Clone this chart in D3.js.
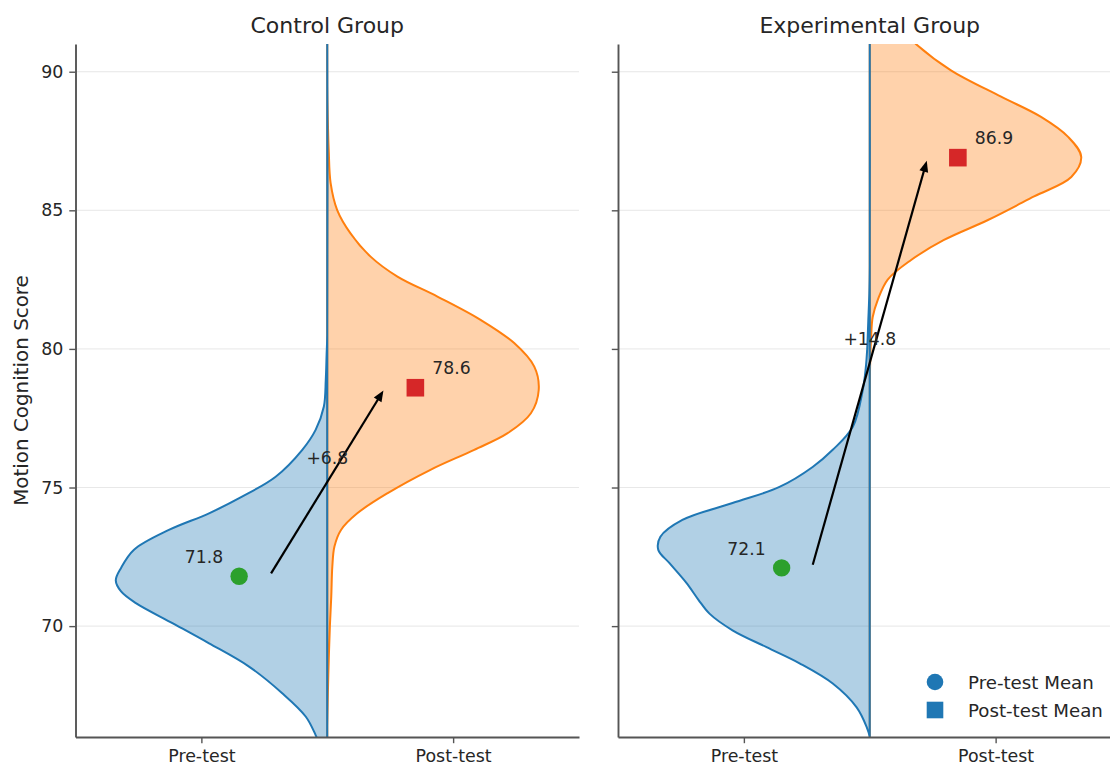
<!DOCTYPE html>
<html>
<head>
<meta charset="utf-8">
<script src="https://cdn.jsdelivr.net/npm/d3@7"></script>
<style>
  body { margin: 0; background: #fff; }
  text { font-family: "DejaVu Sans", sans-serif; fill: #262626; }
</style>
</head>
<body>
<svg id="chart"></svg>
<script>
// values
var groups = ["Control Group", "Experimental Group"];
var phases = ["Pre-test", "Post-test"];
var yTicks = [70, 75, 80, 85, 90];
var preMeans = [71.8, 72.1];
var postMeans = [78.6, 86.9];
var legendLabels = ["Pre-test Mean", "Post-test Mean"];

// half violin outlines: [score, width relative to widest point]
var controlPre = [[65.0,0.01],[65.5,0.025],[66.07,0.055],[66.74,0.102],[67.58,0.213],[68.54,0.37],[69.38,0.559],
  [70.1,0.73],[70.83,0.905],[71.25,0.975],[71.65,1.0],[72.1,0.975],[72.75,0.915],[73.47,0.749],[74.07,0.559],
  [74.67,0.403],[75.39,0.244],[76.36,0.118],[77.08,0.055],[77.92,0.016],[78.88,0.007],[79.8,0.003],[80.5,0.0],[91.5,0.0]];
var controlPost = [[65.5,0.0],[66.4,0.0],[67.6,0.003],[69.02,0.008],[70.1,0.013],[71.07,0.019],[72.15,0.024],
  [72.87,0.034],[73.47,0.065],[74.07,0.142],[74.79,0.284],[75.64,0.488],[76.36,0.695],[76.96,0.853],[77.68,0.963],
  [78.52,1.0],[79.36,0.979],[80.21,0.884],[81.05,0.725],[81.89,0.521],[82.61,0.332],[83.33,0.205],[84.17,0.11],
  [85.01,0.047],[85.98,0.016],[87.18,0.007],[88.5,0.002],[89.5,0.0],[91.5,0.0]];
var expPre = [[65.5,0.0],[66.0,0.0],[66.35,0.014],[67.07,0.062],[67.93,0.175],[68.66,0.332],[69.24,0.488],[69.85,0.649],
  [70.45,0.758],[70.95,0.81],[71.56,0.867],[72.28,0.948],[72.75,1.0],[73.22,0.99],[73.83,0.886],[74.44,0.649],
  [75.02,0.427],[75.74,0.27],[76.36,0.175],[77.19,0.08],[78.52,0.033],[79.3,0.019],[80.0,0.012],[81.0,0.007],
  [82.0,0.002],[83.0,0.0],[91.5,0.0]];
var expPost = [[65.5,0.0],[78.0,0.0],[79.5,0.002],[80.5,0.007],[81.15,0.014],[81.77,0.038],[82.5,0.085],[83.2,0.194],
  [83.93,0.351],[84.65,0.559],[85.5,0.777],[86.2,0.953],[86.93,1.0],[87.65,0.938],[88.37,0.81],[89.1,0.621],
  [90.05,0.384],[91.0,0.218],[92.0,0.09],[93.0,0.03],[94.0,0.005]];

var densities = [[controlPre, controlPost], [expPre, expPost]];

var width = 1110, height = 766;
var panelX = [75.5, 618], panelW = 503.5;
var plotTop = 44, plotBottom = 737, plotH = plotBottom - plotTop;
var halfWidth = 0.84;   // widest half violin, in x units
var preX = 0.15, postX = 0.85, arrowGap = 0.12;

var blue = "#1f77b4", orange = "#ff7f0e", green = "#2ca02c", red = "#d62728";

var svg = d3.select("#chart").attr("width", width).attr("height", height);

var x = d3.scaleLinear().domain([-0.5, 1.5]).range([0, panelW]);
var y = d3.scaleLinear().domain([66, 91]).range([plotH, 0]);

var defs = svg.append("defs");

groups.forEach(function(name, gi) {
  var g = svg.append("g").attr("transform", "translate(" + panelX[gi] + "," + plotTop + ")");

  defs.append("clipPath").attr("id", "clip" + gi)
    .append("rect").attr("width", panelW).attr("height", plotH);

  // grid
  g.append("g").selectAll("line")
    .data(yTicks).enter().append("line")
    .attr("x1", 0).attr("x2", panelW)
    .attr("y1", d => y(d)).attr("y2", d => y(d))
    .attr("stroke", "#b0b0b0").attr("stroke-opacity", 0.3).attr("stroke-width", 1);

  // half violins, post first so the pre outline sits on the centre line
  var plot = g.append("g").attr("clip-path", "url(#clip" + gi + ")");
  var cx = x(0.5), k = x(halfWidth) - x(0);
  var sides = [
    {data: densities[gi][1], sign: 1, color: orange},
    {data: densities[gi][0], sign: -1, color: blue}
  ];
  sides.forEach(function(s) {
    var area = d3.area()
      .curve(d3.curveCatmullRom.alpha(0.5))
      .y(d => y(d[0]))
      .x0(cx)
      .x1(d => cx + s.sign * Math.max(d[1], 0) * k);
    plot.append("path")
      .datum(s.data)
      .attr("d", area)
      .attr("fill", s.color).attr("fill-opacity", 0.35)
      .attr("stroke", s.color).attr("stroke-width", 2)
      .attr("stroke-linejoin", "round");
  });

  // axes
  var yAxis = d3.axisLeft(y).tickValues(yTicks).tickSize(6.2).tickPadding(6).tickSizeOuter(0);
  if (gi > 0) yAxis.tickFormat("");
  var ya = g.append("g").call(yAxis);
  var xa = g.append("g").attr("transform", "translate(0," + plotH + ")")
    .call(d3.axisBottom(x).tickValues([0, 1]).tickFormat(i => phases[i])
      .tickSize(6.2).tickPadding(6).tickSizeOuter(0));
  [ya, xa].forEach(function(a) {
    a.select(".domain").attr("stroke", "#555").attr("stroke-width", 1.9);
    a.selectAll(".tick line").attr("stroke", "#555").attr("stroke-width", 1.4);
    a.selectAll(".tick text").style("font-size", "17.4px").attr("fill", "#262626")
      .style("font-family", "'DejaVu Sans', sans-serif");
  });

  // change arrow
  var pre = preMeans[gi], post = postMeans[gi];
  var x1 = x(preX + arrowGap), y1 = y(pre), x2 = x(postX - arrowGap), y2 = y(post);
  var len = Math.hypot(x2 - x1, y2 - y1), ux = (x2 - x1) / len, uy = (y2 - y1) / len;
  var shrink = 3.3, headL = 11, headW = 4.5;
  var sx = x1 + ux * shrink, sy = y1 + uy * shrink;
  var tx = x2 - ux * shrink, ty = y2 - uy * shrink;
  var bx = tx - ux * headL, by = ty - uy * headL;
  g.append("line")
    .attr("x1", sx).attr("y1", sy).attr("x2", bx + ux * 2).attr("y2", by + uy * 2)
    .attr("stroke", "#000").attr("stroke-width", 2.2);
  g.append("path")
    .attr("d", "M" + tx + "," + ty +
      "L" + (bx - uy * headW) + "," + (by + ux * headW) +
      "L" + (bx + uy * headW) + "," + (by - ux * headW) + "Z")
    .attr("fill", "#000");

  // mean markers
  g.append("circle")
    .attr("cx", x(preX)).attr("cy", y(pre)).attr("r", 8.7)
    .attr("fill", green);
  g.append("rect")
    .attr("x", x(postX) - 8.8).attr("y", y(post) - 8.8)
    .attr("width", 17.6).attr("height", 17.6)
    .attr("fill", red);

  // value labels
  g.append("text")
    .attr("x", x(preX) - 16).attr("y", y(pre) - 13)
    .attr("text-anchor", "end").style("font-size", "17.2px")
    .text(pre.toFixed(1));
  g.append("text")
    .attr("x", x(postX) + 17).attr("y", y(post) - 13.5)
    .attr("text-anchor", "start").style("font-size", "17.2px")
    .text(post.toFixed(1));
  g.append("text")
    .attr("x", x(0.5)).attr("y", y((pre + post) / 2 + 0.5) - 4)
    .attr("text-anchor", "middle").style("font-size", "17.2px")
    .text("+" + (post - pre).toFixed(1));

  // title
  g.append("text")
    .attr("x", panelW / 2).attr("y", 33 - plotTop)
    .attr("text-anchor", "middle").style("font-size", "22px")
    .text(name);

  if (gi === 0) {
    g.append("text")
      .attr("transform", "translate(" + (28 - panelX[0]) + "," + plotH / 2 + ") rotate(-90)")
      .attr("text-anchor", "middle").style("font-size", "19.9px")
      .text("Motion Cognition Score");
  }

  // legend on the right panel
  if (gi === 1) {
    var leg = g.append("g").attr("transform", "translate(" + (panelW - 186.5) + "," + (plotH - 55) + ")");
    leg.append("circle").attr("cx", 0).attr("cy", 0).attr("r", 8.3).attr("fill", blue);
    leg.append("rect").attr("x", -8.3).attr("y", 28 - 8.3).attr("width", 16.6).attr("height", 16.6).attr("fill", blue);
    leg.selectAll("text.leg").data(legendLabels).enter().append("text")
      .attr("class", "leg")
      .attr("x", 33).attr("y", (d, i) => i * 28).attr("dy", "0.36em")
      .style("font-size", "18.2px")
      .text(d => d);
  }
});
</script>
</body>
</html>
